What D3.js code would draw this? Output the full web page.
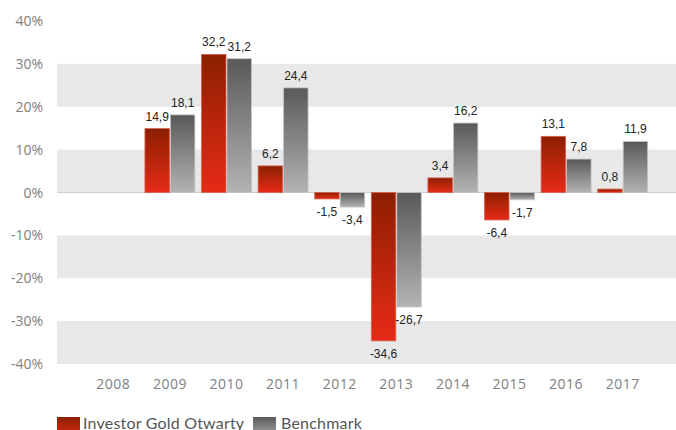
<!DOCTYPE html>
<html>
<head>
<meta charset="utf-8">
<script src="https://cdn.jsdelivr.net/npm/d3@7"></script>
<style>
  body { margin: 0; background: #fff; }
  svg { display: block; }
</style>
</head>
<body>
<div id="chart"></div>
<script>
// data
var years = ["2008", "2009", "2010", "2011", "2012", "2013", "2014", "2015", "2016", "2017"];
var fund = [null, 14.9, 32.2, 6.2, -1.5, -34.6, 3.4, -6.4, 13.1, 0.8];
var bench = [null, 18.1, 31.2, 24.4, -3.4, -26.7, 16.2, -1.7, 7.8, 11.9];
var yTicks = [40, 30, 20, 10, 0, -10, -20, -30, -40];
var seriesNames = ["Investor Gold Otwarty", "Benchmark"];

var width = 676, height = 430;
var plotLeft = 57, plotRight = 676;

var svg = d3.select("#chart").append("svg")
    .attr("width", width)
    .attr("height", height);

var defs = svg.append("defs");
function grad(id, c1, c2) {
    var g = defs.append("linearGradient").attr("id", id)
        .attr("x1", 0).attr("y1", 0).attr("x2", 0).attr("y2", 1);
    g.append("stop").attr("offset", "0%").attr("stop-color", c1);
    g.append("stop").attr("offset", "100%").attr("stop-color", c2);
}
grad("gRed", "#8c1f00", "#e72b17");
grad("gGray", "#595959", "#b3b3b3");

var y = d3.scaleLinear().domain([-40, 40]).range([364, 21]);
var x = d3.scaleBand().domain(years).range([85, 651]).paddingInner(0.1).paddingOuter(0.05);
var xs = d3.scaleBand().domain(["fund", "bench"]).range([0, x.bandwidth()]);

// grey bands
var bands = [[30, 20], [10, 0], [-10, -20], [-30, -40]];
svg.append("g").selectAll("rect").data(bands).enter().append("rect")
    .attr("x", plotLeft)
    .attr("width", plotRight - plotLeft)
    .attr("y", d => y(d[0]))
    .attr("height", d => y(d[1]) - y(d[0]))
    .attr("fill", "#e8e8e8");

// zero line
svg.append("line")
    .attr("x1", plotLeft).attr("x2", plotRight)
    .attr("y1", y(0)).attr("y2", y(0))
    .attr("stroke", "#cfcfcf").attr("stroke-width", 1);

// y axis labels
svg.append("g").selectAll("text").data(yTicks).enter().append("text")
    .attr("x", 43)
    .attr("y", d => y(d) + 5)
    .attr("text-anchor", "end")
    .style("font-family", "'Open Sans', sans-serif")
    .style("font-size", "14px")
    .style("fill", "#808080")
    .text(d => d + "%");

// x axis labels
svg.append("g").selectAll("text").data(years).enter().append("text")
    .attr("x", d => x(d) + x.bandwidth() / 2)
    .attr("y", 389)
    .attr("text-anchor", "middle")
    .style("font-family", "'Open Sans', sans-serif")
    .style("font-size", "14px")
    .style("letter-spacing", "0.5px")
    .style("fill", "#808080")
    .text(d => d);

var rows = [];
years.forEach(function (yr, i) {
    if (fund[i] !== null) rows.push({ year: yr, key: "fund", v: fund[i] });
    if (bench[i] !== null) rows.push({ year: yr, key: "bench", v: bench[i] });
});

var bars = svg.append("g");
bars.selectAll("rect").data(rows).enter().append("rect")
    .attr("x", d => x(d.year) + xs(d.key) + 0.5)
    .attr("width", xs.bandwidth() - 1)
    .attr("y", d => y(Math.max(0, d.v)))
    .attr("height", d => Math.abs(y(d.v) - y(0)))
    .attr("fill", d => d.key == "fund" ? "url(#gRed)" : "url(#gGray)")
    .attr("stroke", d => d.key == "fund" ? "#d4604c" : "#c4c4c4")
    .attr("stroke-width", 0.8);

bars.selectAll("text").data(rows).enter().append("text")
    .attr("x", d => x(d.year) + xs(d.key) + xs.bandwidth() / 2)
    .attr("y", d => d.v >= 0 ? y(d.v) - 8 : y(d.v) + 17)
    .attr("text-anchor", "middle")
    .style("font-family", "'Liberation Sans', Arial, sans-serif")
    .style("font-size", "12px")
    .style("fill", "#222")
    .text(d => String(d.v).replace(".", ","));

// legend (cut by the bottom edge, as in the original)
var legend = svg.append("g");
var legX = [57, 253];
var legTextX = [83, 281];
seriesNames.forEach(function (name, i) {
    legend.append("rect")
        .attr("x", legX[i]).attr("y", 417)
        .attr("width", 23).attr("height", 22)
        .attr("fill", i == 0 ? "url(#gRed)" : "url(#gGray)");
    legend.append("text")
        .attr("x", legTextX[i])
        .attr("y", 429)
        .style("font-family", "Lato, sans-serif")
        .style("font-size", "16px")
        .style("letter-spacing", "0.2px")
        .style("fill", "#555")
        .text(name);
});
</script>
</body>
</html>
